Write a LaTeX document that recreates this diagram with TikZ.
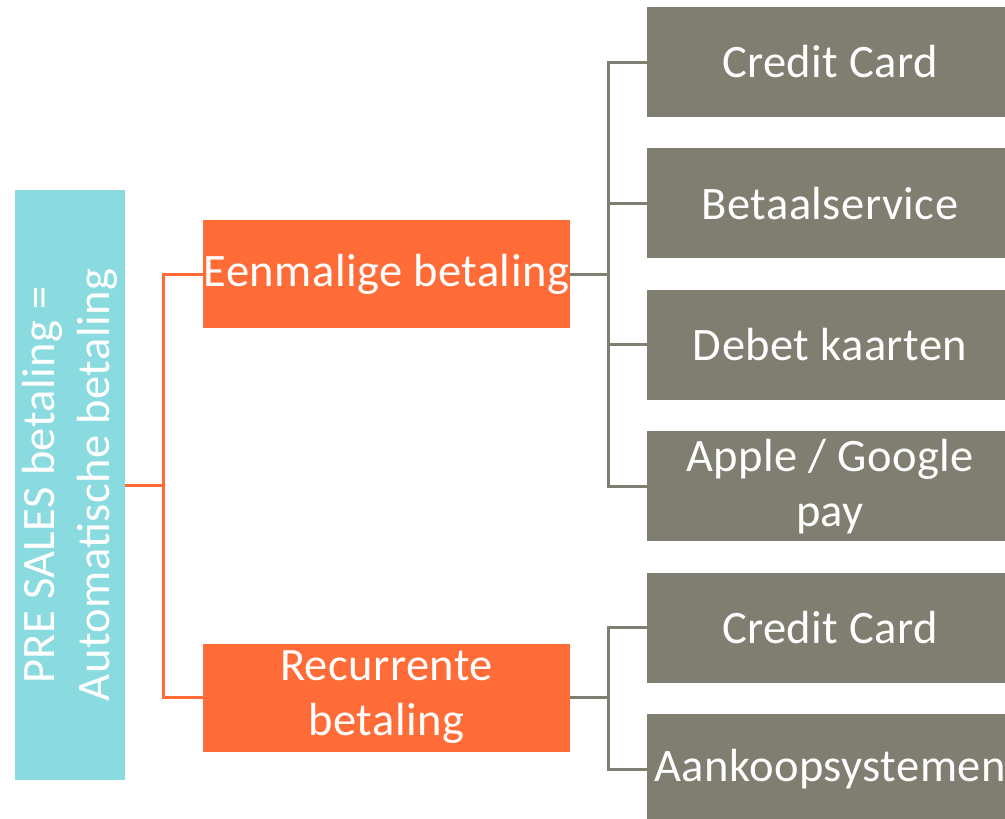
\documentclass[tikz,border=0pt]{standalone}
\usepackage{fontspec}
\setmainfont[LetterSpace=1]{Carlito}
\usetikzlibrary{positioning}
\definecolor{rootcyan}{HTML}{8ADBE0}
\definecolor{branchorange}{HTML}{FF6C37}
\definecolor{leafgray}{HTML}{7F7E71}

\begin{document}
\begin{tikzpicture}[x=1pt,y=-1pt,node distance=31pt,align=center,
	box/.style={inner sep=0pt,text=white,font=\fontsize{46.5}{55}\selectfont},
	rootbox/.style={box,fill=rootcyan,minimum width=590pt,minimum height=110pt,rotate=90},
	branch/.style={box,fill=branchorange,minimum width=367pt,minimum height=108pt},
	leaf/.style={box,fill=leafgray,minimum width=366pt,minimum height=110pt},
	olink/.style={draw=branchorange,line width=3pt},
	glink/.style={draw=leafgray,line width=3pt}]
	\useasboundingbox (0,0) rectangle (1005,819);
	\node[rootbox] (root) at (70,485) {PRE SALES betaling =\\Automatische betaling};
	\node[branch] (eenm) at (386.5,274) {Eenmalige betaling};
	\node[branch] (recur) at (386.5,697.5) {Recurrente\\betaling};
	\node[leaf] (cc_1) at (830,62) {Credit Card};
	\node[leaf] [below=of cc_1] (bs) {Betaalservice};
	\node[leaf] [below=of bs] (dk) {Debet kaarten};
	\node[leaf] [below=of dk] (ag) {Apple / Google\\pay};
	\node[leaf] [below=of ag] (cc_2) {Credit Card};
	\node[leaf] [below=of cc_2] (ak) {Aankoopsystemen};
	\draw[olink] (root.south) -- ++(38,0) |- (eenm.west);
	\draw[olink] (root.south) -- ++(38,0) |- (recur.west);
	\foreach \n in {cc_1,bs,dk,ag}
		\draw[glink] (eenm.east) -- ++(38,0) |- (\n.west);
	\foreach \n in {cc_2,ak}
		\draw[glink] (recur.east) -- ++(38,0) |- (\n.west);
\end{tikzpicture}
\end{document}
